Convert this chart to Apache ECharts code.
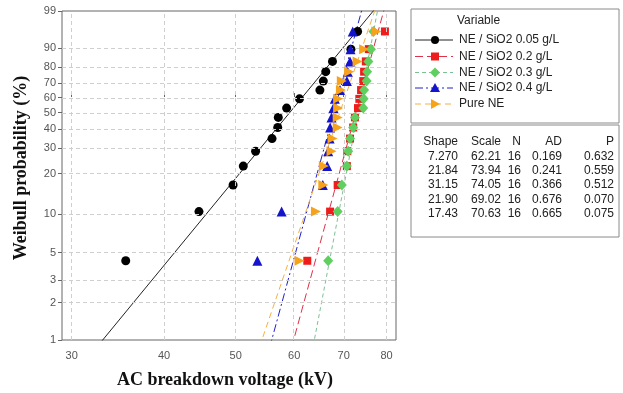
<!DOCTYPE html>
<html><head><meta charset="utf-8">
<script src="https://cdn.jsdelivr.net/npm/echarts@6/dist/echarts.min.js"></script>
<style>html,body{margin:0;padding:0;background:#fff}#c{width:623px;height:393px}</style>
</head><body><div id="c"></div>
<script>
// ---- data ----
const xTicks = [30, 40, 50, 60, 70, 80];
const yTicks = [1, 2, 3, 5, 10, 20, 30, 40, 50, 60, 70, 80, 90, 99];
const seriesNames = ['NE / SiO2 0.05 g/L', 'NE / SiO2 0.2 g/L', 'NE / SiO2 0.3 g/L', 'NE / SiO2 0.4 g/L', 'Pure NE'];
const probs = [4.3, 10.4, 16.5, 22.6, 28.7, 34.8, 40.9, 47.0, 53.0, 59.2, 65.2, 71.3, 77.4, 83.5, 89.6, 95.7];
const ne005 = [35.5, 44.6, 49.6, 51.2, 53.2, 56.0, 57.0, 57.1, 58.6, 61.0, 65.0, 65.7, 66.2, 67.6, 71.6, 73.1];
const ne02  = [62.5, 67.1, 68.7, 70.7, 70.8, 71.4, 72.1, 72.5, 73.2, 73.5, 73.9, 74.4, 74.6, 75.0, 75.7, 79.6];
const ne03  = [66.7, 68.7, 69.6, 70.7, 71.0, 71.4, 72.1, 72.5, 74.4, 74.5, 74.6, 75.2, 75.3, 75.6, 76.2, 76.8];
const ne04  = [53.5, 57.7, 65.6, 66.5, 66.7, 67.0, 67.1, 67.4, 67.8, 68.1, 69.2, 70.7, 70.9, 71.4, 71.5, 72.0];
const pureNE = [61.0, 64.2, 65.7, 65.8, 67.4, 67.6, 68.7, 68.7, 68.8, 68.8, 69.4, 69.6, 71.2, 73.1, 74.6, 77.5];
const shapeVals = [7.270, 21.84, 31.15, 21.90, 17.43];
const scaleVals = [62.21, 73.94, 74.05, 69.02, 70.63];
const shapeText = ['7.270', '21.84', '31.15', '21.90', '17.43'];
const scaleText = ['62.21', '73.94', '74.05', '69.02', '70.63'];
const nText = ['16', '16', '16', '16', '16'];
const adText = ['0.169', '0.241', '0.366', '0.676', '0.665'];
const pText = ['0.632', '0.559', '0.512', '0.070', '0.075'];

// ---- styles ----
const colors = ['#000000', '#ee1c1c', '#5fcf5f', '#1414cc', '#f7a21b'];
const lineColors = ['#222222', '#e0304a', '#7fbf95', '#2020cc', '#f5b040'];
const dashes = ['solid', [8, 4], [4, 3], [8, 3, 2, 3], [6, 4]];
const symbols = ['circle', 'rect', 'diamond', 'triangle', 'path://M0,0L10,5L0,10Z'];
const symSizes = [9, 8, [10, 11], 10, 10];

const W = p => Math.log(-Math.log(1 - p / 100));
const yMin = W(1), yMax = W(99);
const xMin = Math.log(30) - 0.0302, xMax = Math.log(30) + 1.0103;

const groups = [ne005, ne02, ne03, ne04, pureNE];
const series = [];
// fitted lines (first one also carries the dashed gridlines)
groups.forEach((g, i) => {
  const ls = Math.log(scaleVals[i]);
  const ws = [yMin - 1, yMax + 1];
  const s = {
    type: 'line', name: seriesNames[i] + ' fit', z: 2, clip: true,
    showSymbol: false, symbol: 'none', silent: true,
    lineStyle: { color: lineColors[i], width: 1, type: dashes[i] },
    data: ws.map(w => [ls + w / shapeVals[i], w])
  };
  if (i === 0) {
    s.markLine = {
      silent: true, symbol: 'none', animation: false, label: { show: false },
      lineStyle: { color: '#cfcfcf', type: [4, 3], width: 1 },
      data: xTicks.map(v => ({ xAxis: Math.log(v) })).concat(
        yTicks.filter(v => v !== 1 && v !== 99).map(v => ({ yAxis: W(v) })))
    };
  }
  series.push(s);
});
// points
groups.forEach((g, i) => {
  series.push({
    type: 'scatter', name: seriesNames[i], z: 3 + i,
    symbol: symbols[i], symbolSize: symSizes[i],
    itemStyle: { color: colors[i], opacity: 1 },
    data: g.map((v, k) => [Math.log(v), W(probs[k])])
  });
});

// ---- legend & table graphics ----
const gfx = [];
gfx.push({ type: 'rect', shape: { x: 411, y: 9, width: 208, height: 114 }, style: { fill: '#fff', stroke: '#8a8a8a', lineWidth: 1 } });
gfx.push({ type: 'rect', shape: { x: 411, y: 125, width: 208, height: 112 }, style: { fill: '#fff', stroke: '#8a8a8a', lineWidth: 1 } });
const txtFont = '12px "Liberation Sans", Arial, sans-serif';
gfx.push({ type: 'text', x: 457, y: 21, style: { text: 'Variable', font: txtFont, fill: '#222', textVerticalAlign: 'middle' } });
const rowsY = [40, 56.5, 72.5, 88, 104];
rowsY.forEach((y, i) => {
  gfx.push({ type: 'line', shape: { x1: 415, y1: y, x2: 453, y2: y }, style: { stroke: lineColors[i], lineWidth: 1, lineDash: dashes[i] === 'solid' ? null : dashes[i] } });
  const cx = 435;
  let sym;
  if (i === 0) sym = { type: 'circle', shape: { cx: cx, cy: y, r: 4 } };
  else if (i === 1) sym = { type: 'rect', shape: { x: cx - 4, y: y - 4, width: 8, height: 8 } };
  else if (i === 2) sym = { type: 'polygon', shape: { points: [[cx, y - 5], [cx + 5, y], [cx, y + 5], [cx - 5, y]] } };
  else if (i === 3) sym = { type: 'polygon', shape: { points: [[cx, y - 5], [cx + 5, y + 4], [cx - 5, y + 4]] } };
  else sym = { type: 'polygon', shape: { points: [[cx - 4, y - 5], [cx + 5, y], [cx - 4, y + 5]] } };
  sym.style = { fill: colors[i] };
  gfx.push(sym);
  gfx.push({ type: 'text', x: 459, y: y, style: { text: seriesNames[i], font: txtFont, fill: '#222', textVerticalAlign: 'middle' } });
});
const tblFont = '12px "Liberation Sans", Arial, sans-serif';
const colRight = [458, 501, 521, 562, 614];
const headers = ['Shape', 'Scale', 'N', 'AD', 'P'];
headers.forEach((h, j) => {
  gfx.push({ type: 'text', x: colRight[j], y: 141.5, style: { text: h, font: tblFont, fill: '#222', align: 'right', verticalAlign: 'middle' } });
});
const tblRows = [0, 1, 2, 3, 4].map(i => [shapeText[i], scaleText[i], nText[i], adText[i], pText[i]]);
tblRows.forEach((r, i) => {
  r.forEach((t, j) => {
    gfx.push({ type: 'text', x: colRight[j], y: 156.5 + i * 14.3, style: { text: t, font: tblFont, fill: '#222', align: 'right', verticalAlign: 'middle' } });
  });
});
// axis titles
const titleFont = 'bold 18px "Liberation Serif", "Times New Roman", serif';
gfx.push({ type: 'text', x: 225, y: 380, style: { text: 'AC breakdown voltage (kV)', font: titleFont, fill: '#111', align: 'center', verticalAlign: 'middle' } });
gfx.push({ type: 'text', x: 21, y: 168, rotation: Math.PI / 2, style: { text: 'Weibull probability (%)', font: titleFont, fill: '#111', align: 'center', verticalAlign: 'middle' } });

const chart = echarts.init(document.getElementById('c'), null, { renderer: 'canvas' });
chart.setOption({
  animation: false,
  backgroundColor: '#fff',
  grid: { left: 62, right: 227, top: 11, bottom: 53, show: true, borderColor: '#666', borderWidth: 1, backgroundColor: '#fff', containLabel: false },
  xAxis: {
    type: 'value', min: xMin, max: xMax,
    axisLine: { show: false },
    splitLine: { show: false },
    axisTick: { show: true, length: 4, lineStyle: { color: '#666' }, customValues: xTicks.map(v => Math.log(v)) },
    axisLabel: { color: '#555', fontSize: 11, fontFamily: 'Liberation Sans', margin: 10, customValues: xTicks.map(v => Math.log(v)), formatter: v => String(Math.round(Math.exp(v))) }
  },
  yAxis: {
    type: 'value', min: yMin, max: yMax,
    axisLine: { show: false },
    splitLine: { show: false },
    axisTick: { show: true, length: 4, lineStyle: { color: '#666' }, customValues: yTicks.map(W) },
    axisLabel: { color: '#555', fontSize: 11, fontFamily: 'Liberation Sans', margin: 6, customValues: yTicks.map(W), formatter: v => String(Math.round(100 * (1 - Math.exp(-Math.exp(v))))) }
  },
  series: series,
  graphic: gfx
});
</script></body></html>
